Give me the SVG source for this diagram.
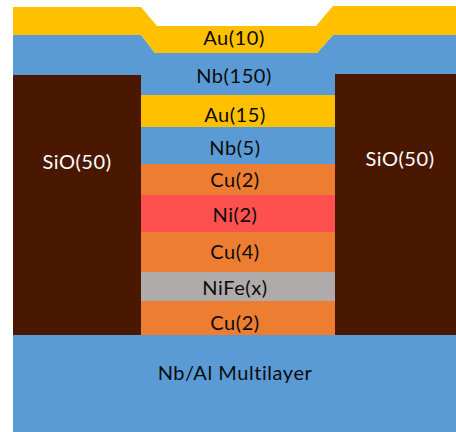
<svg xmlns="http://www.w3.org/2000/svg" width="456" height="432" viewBox="0 0 456 432">
<style>
text{font-family:"Lato","Carlito","Open Sans",sans-serif;font-size:20px;letter-spacing:.55px;fill:#0b0b0b;text-anchor:middle}
.nb{fill:#5b9bd5}.au{fill:#ffc000}.cu{fill:#ed7d31}.sio{fill:#4a1800}
text.w{fill:#fff}
</style>
<rect width="456" height="432" fill="#fff"/>
<g id="nb-al"><rect class="nb" x="13" y="335" width="443" height="97"/><text x="235" y="380">Nb/Al Multilayer</text></g>
<g id="nb150"><path class="nb" d="M13 35H141L155 53H317L333 35H456V140H13Z"/><text x="234" y="83">Nb(150)</text></g>
<g id="au10"><path class="au" d="M13 7H141L157 26H316L333 6H456V35H333L317 53H155L141 35H13Z"/><text x="234" y="45">Au(10)</text></g>
<g id="sio-left"><rect class="sio" x="13" y="75" width="128" height="260"/><text class="w" x="77" y="169">SiO(50)</text></g>
<g id="sio-right"><rect class="sio" x="335" y="74" width="121" height="261"/><text class="w" x="400" y="166">SiO(50)</text></g>
<g id="au15"><rect class="au" x="141" y="95" width="194" height="32"/><text x="235" y="122">Au(15)</text></g>
<g id="nb5"><rect class="nb" x="141" y="127" width="194" height="37"/><text x="235" y="155">Nb(5)</text></g>
<g id="cu2-top"><rect class="cu" x="141" y="164" width="194" height="31"/><text x="235" y="187">Cu(2)</text></g>
<g id="ni2"><rect fill="#ff5050" x="141" y="195" width="194" height="37"/><text x="235" y="222">Ni(2)</text></g>
<g id="cu4"><rect class="cu" x="141" y="232" width="194" height="40"/><text x="235" y="259">Cu(4)</text></g>
<g id="nife"><rect fill="#afabab" x="141" y="272" width="194" height="29"/><text x="235" y="295">NiFe(x)</text></g>
<g id="cu2-bottom"><rect class="cu" x="141" y="301" width="194" height="34"/><text x="235" y="330">Cu(2)</text></g>
</svg>
